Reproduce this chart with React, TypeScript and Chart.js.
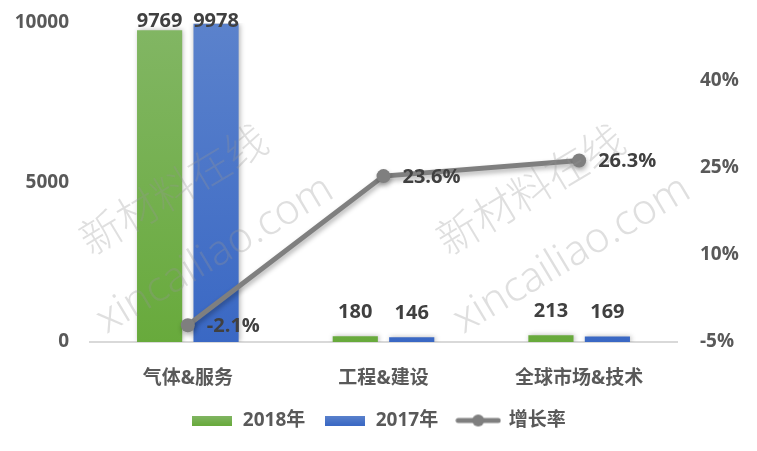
import React, { useEffect, useRef } from "react";
import { Chart, registerables } from "chart.js";

Chart.register(...registerables);

const categories = ["气体&服务", "工程&建设", "全球市场&技术"];
const values2018 = [9769, 180, 213];
const values2017 = [9978, 146, 169];
const growthRate = [-2.1, 23.6, 26.3];
const seriesNames = ["2018年", "2017年", "增长率"];
const leftTicks = [0, 5000, 10000];
const rightTicks = [-5, 10, 25, 40];
const watermarkCn = "新材料在线";
const watermarkEn = "xincailiao.com";

const FONT = "'Open Sans', 'Noto Sans CJK SC', sans-serif";
const CJK = "'Noto Sans CJK SC', 'Noto Sans', sans-serif";
const GREEN_TOP = "#82b664";
const GREEN_BOT = "#68aa3c";
const BLUE_TOP = "#5b82cc";
const BLUE_BOT = "#3a68c4";
const LINE = "#7f7f7f";

function gradientFor(top: string, bottom: string) {
  return (c: any) => {
    const chart = c.chart;
    const area = chart.chartArea;
    if (!area) return bottom;
    const g = chart.ctx.createLinearGradient(0, area.top, 0, area.bottom);
    g.addColorStop(0, top);
    g.addColorStop(1, bottom);
    return g;
  };
}

function makeBoxImage(top: string, bottom: string) {
  const cv = document.createElement("canvas");
  cv.width = 40;
  cv.height = 10;
  const x = cv.getContext("2d")!;
  const g = x.createLinearGradient(0, 0, 0, 10);
  g.addColorStop(0, top);
  g.addColorStop(1, bottom);
  x.fillStyle = g;
  x.fillRect(0, 0, 40, 10);
  return cv;
}

function makeLineImage() {
  const cv = document.createElement("canvas");
  cv.width = 46;
  cv.height = 14;
  const x = cv.getContext("2d")!;
  x.strokeStyle = LINE;
  x.lineWidth = 5;
  x.lineCap = "round";
  x.beginPath();
  x.moveTo(3, 7);
  x.lineTo(43, 7);
  x.stroke();
  x.fillStyle = LINE;
  x.beginPath();
  x.arc(23, 7, 6, 0, Math.PI * 2);
  x.fill();
  return cv;
}

const shadowPlugin = {
  id: "shadows",
  beforeDatasetDraw(chart: any, args: any) {
    const ctx = chart.ctx;
    ctx.save();
    ctx.shadowColor = "rgba(0,0,0,0.3)";
    ctx.shadowBlur = 5;
    ctx.shadowOffsetX = 1;
    ctx.shadowOffsetY = args.index === 2 ? 3 : 0;
  },
  afterDatasetDraw(chart: any) {
    chart.ctx.restore();
  },
};

const watermarkPlugin = {
  id: "watermark",
  afterDatasetsDraw(chart: any) {
    const ctx = chart.ctx;
    const area = chart.chartArea;
    const w = area.right - area.left;
    const draw = (cx: number, cy: number, text: string, font: string) => {
      ctx.save();
      ctx.translate(cx, cy);
      ctx.rotate((-31 * Math.PI) / 180);
      ctx.font = font;
      ctx.fillStyle = "rgba(150,150,150,0.3)";
      ctx.textAlign = "center";
      ctx.textBaseline = "middle";
      ctx.fillText(text, 0, 0);
      ctx.restore();
    };
    [0.145, 0.753].forEach((f) => {
      const cx = area.left + w * f;
      draw(cx - 2, area.top + 166, watermarkCn, `300 42px ${CJK}`);
      draw(cx + 40, area.top + 232, watermarkEn, `300 42px 'Noto Sans', sans-serif`);
    });
  },
};

const labelPlugin = {
  id: "valueLabels",
  afterDatasetsDraw(chart: any) {
    const ctx = chart.ctx;
    ctx.save();
    ctx.font = `bold 20px ${FONT}`;
    ctx.fillStyle = "#404040";
    [0, 1].forEach((di) => {
      const meta = chart.getDatasetMeta(di);
      const data = chart.data.datasets[di].data as number[];
      meta.data.forEach((el: any, i: number) => {
        ctx.textAlign = "center";
        ctx.textBaseline = "middle";
        const y = Math.max(el.y - 24, chart.chartArea.top - 2);
        ctx.fillText(String(data[i]), el.x, y);
      });
    });
    const lm = chart.getDatasetMeta(2);
    lm.data.forEach((el: any, i: number) => {
      ctx.textAlign = "left";
      ctx.textBaseline = "middle";
      ctx.fillText(growthRate[i].toFixed(1) + "%", el.x + 19, el.y + 1);
    });
    ctx.restore();
  },
};

export default function App() {
  const ref = useRef<HTMLCanvasElement | null>(null);
  useEffect(() => {
    if (!ref.current) return;
    const images = [
      makeBoxImage(GREEN_TOP, GREEN_BOT),
      makeBoxImage(BLUE_TOP, BLUE_BOT),
      makeLineImage(),
    ];
    const chart = new Chart(ref.current, {
      type: "bar",
      data: {
        labels: categories,
        datasets: [
          {
            type: "bar",
            label: seriesNames[0],
            data: values2018,
            yAxisID: "y",
            backgroundColor: gradientFor(GREEN_TOP, GREEN_BOT),
            categoryPercentage: 0.577,
            barPercentage: 0.8,
            order: 1,
          },
          {
            type: "bar",
            label: seriesNames[1],
            data: values2017,
            yAxisID: "y",
            backgroundColor: gradientFor(BLUE_TOP, BLUE_BOT),
            categoryPercentage: 0.577,
            barPercentage: 0.8,
            order: 1,
          },
          {
            type: "line",
            label: seriesNames[2],
            data: growthRate,
            yAxisID: "y1",
            borderColor: LINE,
            backgroundColor: LINE,
            borderWidth: 5,
            pointRadius: 7,
            pointBackgroundColor: LINE,
            pointBorderWidth: 0,
            tension: 0,
            order: 0,
          } as any,
        ],
      },
      options: {
        responsive: false,
        animation: false,
        layout: { padding: { top: 23, bottom: 11, left: 0, right: 0 } },
        plugins: {
          tooltip: { enabled: false },
          legend: {
            position: "bottom",
            labels: {
              usePointStyle: true,
              pointStyleWidth: 42,
              padding: 19,
              color: "#595959",
              font: { family: FONT, size: 19, weight: "bold" },
              sort: (a: any, b: any) => a.datasetIndex - b.datasetIndex,
              generateLabels: (chart: any) => {
                const items = (Chart.defaults.plugins.legend.labels as any).generateLabels(chart);
                return items.map((it: any) => ({
                  ...it,
                  pointStyle: images[it.datasetIndex],
                  fontColor: "#595959",
                }));
              },
            },
          },
        },
        scales: {
          x: {
            grid: { display: false },
            border: { display: true, color: "#d9d9d9", width: 2 },
            ticks: {
              color: "#595959",
              padding: 17,
              font: { family: FONT, size: 19, weight: "bold" },
            },
            afterFit: (s: any) => {
              s.height = 50;
            },
          },
          y: {
            position: "left",
            min: leftTicks[0],
            max: leftTicks[leftTicks.length - 1],
            grid: { display: false },
            border: { display: false },
            afterBuildTicks: (s: any) => {
              s.ticks = leftTicks.map((v) => ({ value: v }));
            },
            ticks: {
              color: "#595959",
              padding: 13,
              font: { family: FONT, size: 19, weight: "bold" },
              callback: (v: any) => String(v),
            },
            afterFit: (s: any) => {
              s.width = 90;
              s.paddingTop = 0;
              s.paddingBottom = 0;
            },
          },
          y1: {
            position: "right",
            min: -5,
            max: 50,
            grid: { display: false },
            border: { display: false },
            afterBuildTicks: (s: any) => {
              s.ticks = rightTicks.map((v) => ({ value: v }));
            },
            ticks: {
              color: "#595959",
              padding: 15,
              font: { family: FONT, size: 19, weight: "bold" },
              callback: (v: any) => v + "%",
            },
            afterFit: (s: any) => {
              s.width = 80;
              s.paddingTop = 0;
              s.paddingBottom = 0;
            },
          },
        },
      },
      plugins: [shadowPlugin, watermarkPlugin, labelPlugin],
    });
    return () => chart.destroy();
  }, []);
  return (
    <div style={{ position: "absolute", left: 0, top: 0, width: 757, height: 451, background: "#fff" }}>
      <canvas ref={ref} width={757} height={451} style={{ width: 757, height: 451 }} />
    </div>
  );
}
